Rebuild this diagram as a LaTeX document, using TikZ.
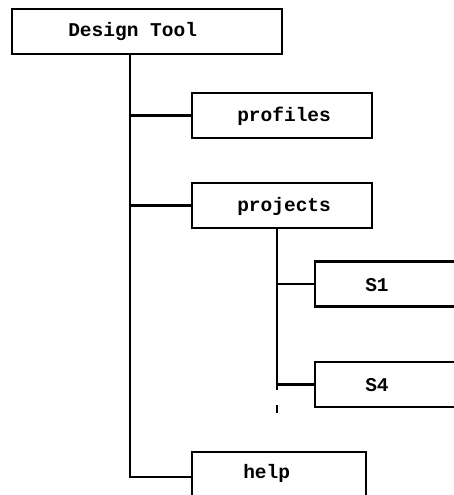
\documentclass[tikz,border=0pt]{standalone}
\usepackage{fontspec}
\setmonofont{Liberation Mono}
\begin{document}
\begin{tikzpicture}[x=1pt,y=-1pt,
  line width=2.5pt,
  box/.style={draw,line width=2.5pt,inner sep=0pt},
  lbl/.style={anchor=west,inner sep=0pt,font=\fontsize{19.5}{22}\selectfont\ttfamily\bfseries},
  link/.style={line width=2.5pt}]
\useasboundingbox (0,0) rectangle (454,495);
\clip (0,0) rectangle (454,495);
% boxes, placed by their centres
\node[box,minimum width=270pt,minimum height=45pt] (root) at (147,31.5) {};
\node[box,minimum width=180pt,minimum height=45pt] (prof) at (282,115.5) {};
\node[box,minimum width=180pt,minimum height=45pt] (proj) at (282,205.5) {};
\node[box,minimum width=160pt,minimum height=45pt] (s1) at (395,284) {};
\node[box,minimum width=160pt,minimum height=45pt] (s4) at (395,384.5) {};
\node[box,minimum width=174pt,minimum height=50pt] (help) at (279,477) {};
% labels
\node[lbl] (troot) at (67,32) {Design Tool};
\node[lbl] (tprof) at (236,116) {profiles};
\node[lbl] (tproj) at (236,206) {projects};
\node[lbl] (ts1) at (364,285) {S1};
\node[lbl] (ts4) at (364,385) {S4};
\node[lbl] (thelp) at (242,473) {help};
% trunks
\coordinate (t1) at (130,54);
\coordinate (t2) at (277,228);
\coordinate (t2e) at (277,390);
\coordinate (d1) at (277,405);
\coordinate (d2) at (277,413);
\draw[link] (t1) |- (help.west);
\draw[link] (t1 |- prof.west) -- (prof.west);
\draw[link] (t1 |- proj.west) -- (proj.west);
\draw[link] (t2) -- (t2e);
\draw[link] (t2 |- s1.west) -- (s1.west);
\draw[link] (t2 |- s4.west) -- (s4.west);
\draw[link] (d1) -- (d2);
\end{tikzpicture}
\end{document}
